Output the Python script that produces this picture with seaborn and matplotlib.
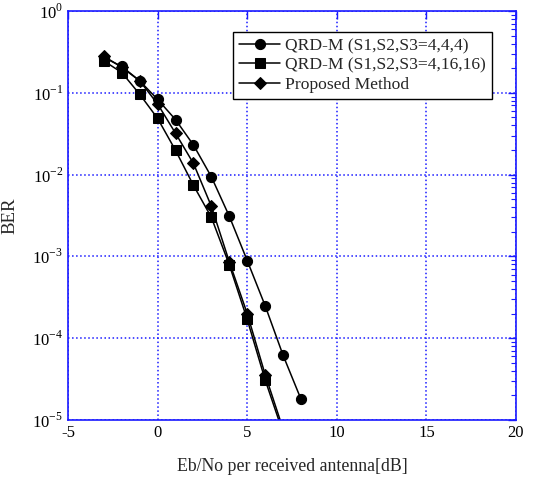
import numpy as np
import pandas as pd
import seaborn as sns
import matplotlib
matplotlib.use("Agg")
import matplotlib.pyplot as plt
from matplotlib.ticker import LogLocator, FixedLocator, NullFormatter, FuncFormatter

# BER curves
snr_qrdm_444 = [-3, -2, -1, 0, 1, 2, 3, 4, 5, 6, 7, 8]
ber_qrdm_444 = [0.27, 0.21, 0.14, 0.083, 0.047, 0.023, 0.0094, 0.0031,
                8.9e-4, 2.5e-4, 6.2e-5, 1.8e-5]

snr_qrdm_41616 = [-3, -2, -1, 0, 1, 2, 3, 4, 5, 6, 7]
ber_qrdm_41616 = [0.245, 0.177, 0.096, 0.0486, 0.0198, 0.0074, 0.0030,
                  7.9e-4, 1.7e-4, 3.1e-5, 7.0e-6]

snr_proposed = [-3, -2, -1, 0, 1, 2, 3, 4, 5, 6, 7]
ber_proposed = [0.28, 0.205, 0.14, 0.073, 0.032, 0.0137, 0.0041,
                8.6e-4, 2.0e-4, 3.6e-5, 7.8e-6]

labels = ['QRD-M (S1,S2,S3=4,4,4)', 'QRD-M (S1,S2,S3=4,16,16)', 'Proposed Method']
markers = ['o', 's', 'D']

sns.set_style("white")
plt.rcParams['font.family'] = ['Liberation Serif', 'DejaVu Serif']
plt.rcParams['mathtext.fontset'] = 'custom'
plt.rcParams['mathtext.rm'] = 'Liberation Serif'
plt.rcParams['axes.unicode_minus'] = False

fig = plt.figure(figsize=(5.33, 4.82), dpi=100)
ax = fig.add_axes([0.1276, 0.1286, 0.8405, 0.8486])

series = [(snr_qrdm_444, ber_qrdm_444), (snr_qrdm_41616, ber_qrdm_41616),
          (snr_proposed, ber_proposed)]
for (x, y), lab, m in zip(series, labels, markers):
    df = pd.DataFrame({'snr': x, 'ber': y})
    ms = 6.5 if m == 'D' else 7.3
    sns.lineplot(data=df, x='snr', y='ber', ax=ax, color='black', lw=1.1,
                 marker=m, markersize=ms, markeredgecolor='black',
                 label=lab, sort=False)

ax.set_yscale('log')
ax.set_xlim(-5, 20)
ax.set_ylim(1e-5, 1)
ax.xaxis.set_major_locator(FixedLocator([-5, 0, 5, 10, 15, 20]))
ax.yaxis.set_major_locator(LogLocator(base=10, numticks=10))
ax.yaxis.set_minor_locator(LogLocator(base=10, subs=np.arange(2, 10), numticks=20))
ax.yaxis.set_minor_formatter(NullFormatter())
ax.yaxis.set_major_formatter(FuncFormatter(lambda v, p: r'$10^{%d}$' % round(np.log10(v))))

blue = '#1a1aff'
for s in ax.spines.values():
    s.set_color(blue)
    s.set_linewidth(1.2)
ax.tick_params(which='both', direction='in', top=True, right=True, color=blue,
               labelsize=12, labelcolor='black')
ax.tick_params(which='major', length=6, width=1)
ax.tick_params(which='minor', length=3.5, width=0.8)
ax.grid(True, which='major', color=blue, linestyle=':', linewidth=1.1)

ax.set_xlabel('Eb/No per received antenna[dB]', fontsize=12.8, labelpad=12)
ax.set_ylabel('BER', fontsize=13.5, labelpad=10)

leg = ax.legend(loc='upper right', bbox_to_anchor=(0.946, 0.949), fontsize=12.6,
                frameon=True, fancybox=False, framealpha=1, edgecolor='black',
                handlelength=2.3, borderpad=0.35, labelspacing=0.18, handletextpad=0.3,
                borderaxespad=0)
leg.get_frame().set_linewidth(1.0)

fig.savefig('out.png', dpi=100)
